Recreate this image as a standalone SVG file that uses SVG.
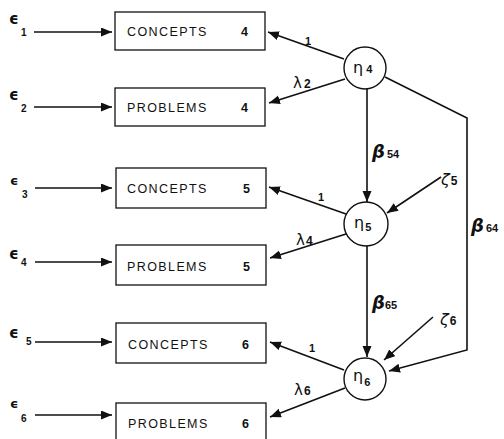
<svg xmlns="http://www.w3.org/2000/svg" width="504" height="439" viewBox="0 0 504 439">
<defs>
<marker id="ah" markerUnits="userSpaceOnUse" markerWidth="12" markerHeight="10" refX="11" refY="4.5" orient="auto">
<path d="M0,0 L11,4.5 L0,9 z" fill="#111"/>
</marker>
<style>
.box{fill:#fff;stroke:#111;stroke-width:1.3}
.lat{fill:#fff;stroke:#111;stroke-width:1.4}
.ln{fill:none;stroke:#111;stroke-width:1.6}
.bt{font-family:"Liberation Sans",Arial,sans-serif;font-size:12.5px;letter-spacing:1.4px;fill:#111}
.num{font-family:"Liberation Sans",Arial,sans-serif;font-size:12.5px;font-weight:bold;fill:#111}
.gk{font-family:"DejaVu Sans","Liberation Sans",sans-serif;fill:#111}
.sub{font-family:"Liberation Sans",Arial,sans-serif;font-weight:bold;font-style:normal;fill:#111}
</style>
</defs>
<rect width="504" height="439" fill="#fff"/>

<g id="connectors">
<line class="ln" x1="34" y1="32" x2="112" y2="32" marker-end="url(#ah)"/>
<line class="ln" x1="34" y1="107" x2="112" y2="107" marker-end="url(#ah)"/>
<line class="ln" x1="35" y1="188" x2="112" y2="188" marker-end="url(#ah)"/>
<line class="ln" x1="35" y1="262" x2="112" y2="262" marker-end="url(#ah)"/>
<line class="ln" x1="35" y1="342" x2="112" y2="342" marker-end="url(#ah)"/>
<line class="ln" x1="35" y1="415" x2="112" y2="415" marker-end="url(#ah)"/>

<line class="ln" x1="344" y1="59" x2="268" y2="32" marker-end="url(#ah)"/>
<line class="ln" x1="345" y1="79" x2="269" y2="103" marker-end="url(#ah)"/>
<line class="ln" x1="346" y1="214" x2="269" y2="187" marker-end="url(#ah)"/>
<line class="ln" x1="346" y1="234" x2="270" y2="258" marker-end="url(#ah)"/>
<line class="ln" x1="344" y1="370" x2="270" y2="342" marker-end="url(#ah)"/>
<line class="ln" x1="345" y1="388" x2="270" y2="417" marker-end="url(#ah)"/>

<line class="ln" x1="367" y1="89" x2="367" y2="202" marker-end="url(#ah)"/>
<line class="ln" x1="367" y1="246" x2="367" y2="357" marker-end="url(#ah)"/>
<line class="ln" x1="441" y1="177" x2="387" y2="213" marker-end="url(#ah)"/>
<line class="ln" x1="433" y1="317" x2="384" y2="360" marker-end="url(#ah)"/>
<polyline class="ln" points="385,77 467,118 467,350 389,371" marker-end="url(#ah)"/>

<text class="sub" x="305" y="45" font-size="11">1</text>
<text class="gk" x="293" y="88" font-size="15">λ<tspan class="sub" font-size="12" dx="2">2</tspan></text>
<text class="gk" x="372" y="158" font-size="18" font-weight="bold" font-style="italic">β<tspan class="sub" font-size="11" dx="2">54</tspan></text>
<text class="sub" x="318" y="201" font-size="11">1</text>
<text class="gk" x="296" y="245" font-size="15">λ<tspan class="sub" font-size="12" dx="1">4</tspan></text>
<text class="gk" x="441" y="185" font-size="16" font-style="italic">ζ<tspan class="sub" font-size="12" dx="1">5</tspan></text>
<text class="gk" x="471" y="232" font-size="18" font-weight="bold" font-style="italic">β<tspan class="sub" font-size="11" dx="2">64</tspan></text>
<text class="gk" x="372" y="309" font-size="18" font-weight="bold" font-style="italic">β<tspan class="sub" font-size="11" dx="0">65</tspan></text>
<text class="gk" x="440" y="325" font-size="16" font-style="italic">ζ<tspan class="sub" font-size="12" dx="1">6</tspan></text>
<text class="sub" x="309" y="352" font-size="11">1</text>
<text class="gk" x="294" y="395" font-size="15">λ<tspan class="sub" font-size="12" dx="1">6</tspan></text>
</g>

<g id="eps1"><text class="gk" x="9" y="24" font-size="15" font-weight="bold">ϵ</text><text class="sub" x="21" y="36" font-size="10">1</text></g>
<g id="eps2"><text class="gk" x="9" y="100" font-size="15" font-weight="bold">ϵ</text><text class="sub" x="21" y="112" font-size="10">2</text></g>
<g id="eps3"><text class="gk" x="10" y="185" font-size="13" font-weight="bold">ϵ</text><text class="sub" x="22" y="198" font-size="10">3</text></g>
<g id="eps4"><text class="gk" x="9" y="259" font-size="15" font-weight="bold">ϵ</text><text class="sub" x="21" y="266" font-size="10">4</text></g>
<g id="eps5"><text class="gk" x="9" y="338" font-size="15" font-weight="bold">ϵ</text><text class="sub" x="26" y="345" font-size="10">5</text></g>
<g id="eps6"><text class="gk" x="10" y="408" font-size="13" font-weight="bold">ϵ</text><text class="sub" x="21" y="422" font-size="10">6</text></g>

<g id="concepts4"><rect class="box" x="115" y="12" width="150" height="38"/><text class="bt" x="127" y="36">CONCEPTS</text><text class="num" x="241" y="36">4</text></g>
<g id="problems4"><rect class="box" x="115" y="88" width="150" height="38"/><text class="bt" x="127" y="112">PROBLEMS</text><text class="num" x="241" y="112">4</text></g>
<g id="concepts5"><rect class="box" x="116" y="168" width="150" height="40"/><text class="bt" x="127" y="193">CONCEPTS</text><text class="num" x="243" y="193">5</text></g>
<g id="problems5"><rect class="box" x="116" y="245" width="150" height="40"/><text class="bt" x="127" y="271">PROBLEMS</text><text class="num" x="243" y="271">5</text></g>
<g id="concepts6"><rect class="box" x="116" y="323" width="150" height="40"/><text class="bt" x="128" y="349">CONCEPTS</text><text class="num" x="242" y="349">6</text></g>
<g id="problems6"><rect class="box" x="116" y="403" width="150" height="40"/><text class="bt" x="128" y="428">PROBLEMS</text><text class="num" x="242" y="428">6</text></g>

<g id="eta4"><circle class="lat" cx="365" cy="68" r="21"/><text class="gk" x="353" y="73" font-size="16">η<tspan class="sub" font-size="11" dx="3">4</tspan></text></g>
<g id="eta5"><circle class="lat" cx="366" cy="224" r="22"/><text class="gk" x="354" y="228" font-size="16">η<tspan class="sub" font-size="11" dx="1" dy="3">5</tspan></text></g>
<g id="eta6"><circle class="lat" cx="365" cy="379" r="21"/><text class="gk" x="353" y="381" font-size="16">η<tspan class="sub" font-size="11" dx="1" dy="5">6</tspan></text></g>
</svg>
